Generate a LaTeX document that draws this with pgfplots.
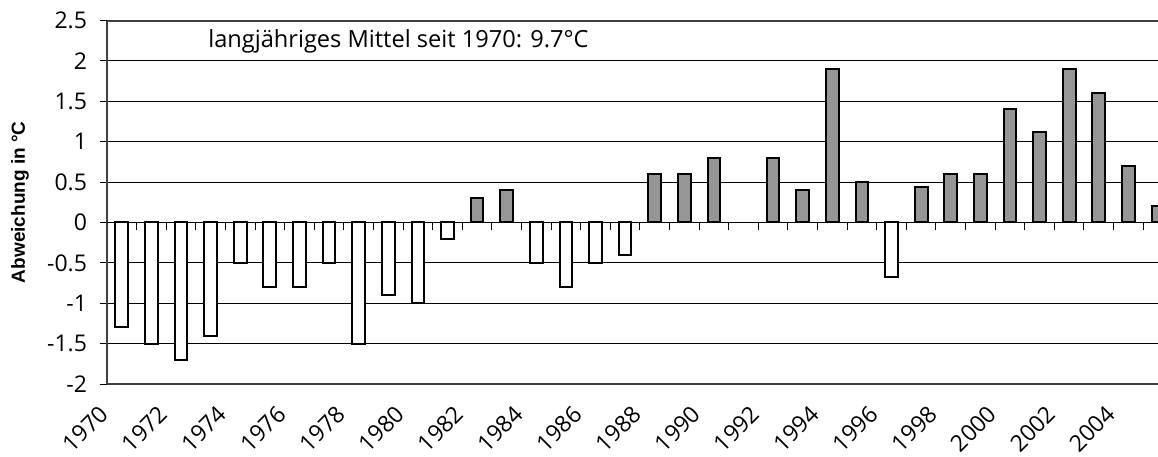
\documentclass[border=0pt]{standalone}
\usepackage{fontspec}
\setmainfont{Open Sans}
\newfontfamily\labelfont{Liberation Sans}
\usepackage{pgfplots}
\pgfplotsset{compat=1.18}
\definecolor{barfill}{HTML}{969696}
\definecolor{axgray}{HTML}{404040}
\begin{document}
\begin{tikzpicture}
\begin{axis}[
  at={(0,0)}, anchor=south west,
  scale only axis, width=525.5pt, height=181.75pt,
  xmin=-0.5, xmax=35, ymin=-2, ymax=2.5,
  axis x line*=bottom, axis y line*=left,
  axis line style={axgray, line width=1pt},
  ytick={-2,-1.5,...,2.5},
  yticklabels={-2,-1.5,-1,-0.5,0,0.5,1,1.5,2,2.5},
  ymajorgrids, grid style={black, line width=0.5pt},
  xtick={-0.5,1.5,...,33.5},
  xticklabels={1970,1972,1974,1976,1978,1980,1982,1984,1986,1988,1990,1992,1994,1996,1998,2000,2002,2004},
  x tick style={draw=none},
  y tick style={black, line width=0.5pt},
  tick align=outside, major tick length=3.5pt,
  y tick label style={font=\fontsize{11.5}{12}\selectfont, xshift=-3pt},
  x tick label style={font=\fontsize{11.5}{12}\selectfont, xshift=1pt, yshift=-7pt, rotate=45, anchor=east},
  /pgf/number format/assume math mode=true,
  ylabel={Abweichung in °C},
  every axis y label/.style={at={(axis description cs:-0.08278,0.5)}, rotate=90, anchor=center, font=\labelfont\bfseries\fontsize{9.5}{11}\selectfont},
  ybar, bar width=6.35pt,
  clip=true,
]
\addplot[bar shift=0pt, fill=barfill, draw=black, line width=1pt] coordinates {
  (12,0.3) (13,0.4) (18,0.6) (19,0.6) (20,0.8) (22,0.8) (23,0.4) (24,1.9)
  (25,0.5) (27,0.44) (28,0.6) (29,0.6) (30,1.4) (31,1.12) (32,1.9) (33,1.6)
  (34,0.7) (35,0.2)
};
\addplot[bar shift=0pt, fill=white, draw=black, line width=1pt] coordinates {
  (0,-1.3) (1,-1.5) (2,-1.7) (3,-1.4) (4,-0.5) (5,-0.8) (6,-0.8) (7,-0.5)
  (8,-1.5) (9,-0.9) (10,-1.0) (11,-0.2) (14,-0.5) (15,-0.8) (16,-0.5) (17,-0.4)
  (26,-0.68)
};
\draw[axgray, line width=1pt] (axis cs:-0.5,2.5) -- (axis cs:35,2.5);
\node[anchor=base west, inner sep=0pt, font=\fontsize{11.8}{14}\selectfont] at (axis cs:2.91,2.17) {langjähriges Mittel seit 1970: 9.7°C};
\end{axis}
\begin{axis}[
  at={(0,0)}, anchor=south west,
  scale only axis, width=525.5pt, height=181.75pt,
  xmin=-0.5, xmax=35, ymin=-2, ymax=2.5,
  axis x line=middle, axis y line=none,
  axis line style={-, black, line width=0.5pt},
  xtick={0.5,1.5,...,34.5}, xticklabels={},
  ytick=\empty,
  x tick style={black, line width=0.5pt},
  xtick align=outside, major tick length=4pt,
]
\end{axis}
\pgfresetboundingbox
\useasboundingbox (-53.5pt,-36pt) rectangle (525.5pt,192pt);
\end{tikzpicture}
\end{document}
